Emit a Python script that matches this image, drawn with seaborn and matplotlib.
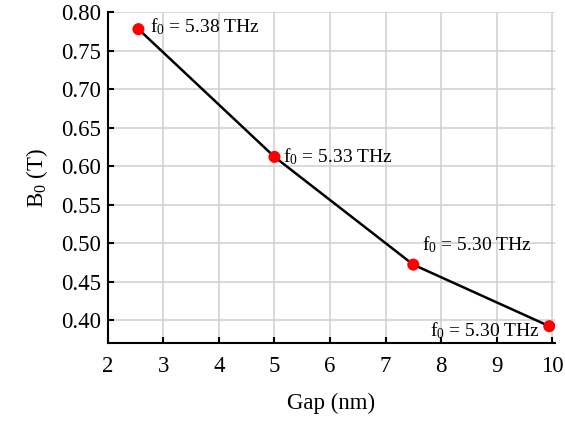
import numpy as np
import pandas as pd
import seaborn as sns
import matplotlib
matplotlib.use('Agg')
import matplotlib.pyplot as plt

# Data
gap = [2.55, 5.0, 7.5, 9.95]
b0 = [0.778, 0.612, 0.472, 0.392]
f0_labels = ['5.38', '5.33', '5.30', '5.30']

df = pd.DataFrame({'gap': gap, 'b0': b0})

sns.set_theme(style='whitegrid')
plt.rcParams['font.family'] = ['Liberation Serif', 'DejaVu Serif']
plt.rcParams['mathtext.fontset'] = 'custom'
plt.rcParams['mathtext.rm'] = 'Liberation Serif'
plt.rcParams['mathtext.it'] = 'Liberation Serif:italic'

fig = plt.figure(figsize=(5.65, 4.21), dpi=100)
ax = fig.add_axes([0.191, 0.185, 0.791, 0.786])

sns.lineplot(data=df, x='gap', y='b0', color='black', linewidth=1.8, ax=ax)
sns.scatterplot(data=df, x='gap', y='b0', color='#ff0000', s=75, edgecolor='none', zorder=5, ax=ax)

ax.set_xlim(2, 10.05)
ax.set_ylim(0.37, 0.80)
ax.set_xticks(range(2, 11))
ax.set_yticks(np.arange(0.40, 0.801, 0.05))
ax.set_yticklabels([f'{v:.2f}' for v in np.arange(0.40, 0.801, 0.05)])

ax.grid(True, color='#d0d0d0', linewidth=1.1)
for s in ['top', 'right']:
    ax.spines[s].set_visible(False)
for s in ['left', 'bottom']:
    ax.spines[s].set_color('black')
    ax.spines[s].set_linewidth(1.5)

ax.tick_params(axis='both', direction='in', length=4, width=1.5, colors='black',
               labelsize=16.5, left=True, bottom=True)
ax.tick_params(axis='x', pad=9)
ax.tick_params(axis='y', pad=5)
ax.set_xlabel('Gap (nm)', fontsize=16.5, labelpad=12, color='black')
ax.set_ylabel('B$_0$ (T)', fontsize=16.5, labelpad=8, color='black')

offsets = [(8, 2, 'left', 'center'), (6, 0, 'left', 'center'),
           (6, 7, 'left', 'bottom'), (-7, -3, 'right', 'center')]
for x, y, lab, (dx, dy, ha, va) in zip(gap, b0, f0_labels, offsets):
    ax.annotate(f'f$_0$ = {lab} THz', (x, y), xytext=(dx, dy), textcoords='offset points',
                ha=ha, va=va, fontsize=14, color='black')

fig.savefig('out.png', dpi=100)
